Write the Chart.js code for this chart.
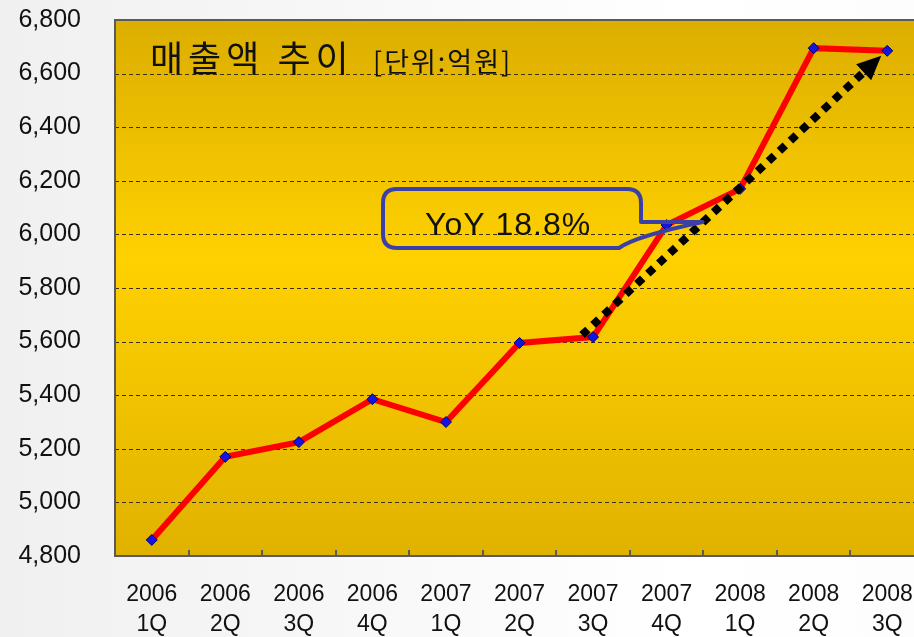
<!DOCTYPE html>
<html>
<head>
<meta charset="utf-8">
<script src="https://cdn.jsdelivr.net/npm/chart.js@4"></script>
<style>
  html, body { margin: 0; padding: 0; width: 914px; height: 637px; overflow: hidden; }
  body { background: linear-gradient(90deg, #f0f0f0 0%, #f8f8f8 40%, #ffffff 75%, #fdfdfd 100%); }
  #box { position: absolute; left: 0; top: 0; width: 924px; height: 637px; }
</style>
</head>
<body>
<div id="box"><canvas id="chart"></canvas></div>
<script>
// 매출액 추이 (quarterly sales, 억원)
const years = ['2006', '2006', '2006', '2006', '2007', '2007', '2007', '2007', '2008', '2008', '2008'];
const quarters = ['1Q', '2Q', '3Q', '4Q', '1Q', '2Q', '3Q', '4Q', '1Q', '2Q', '3Q'];
const sales = [4860, 5170, 5225, 5385, 5300, 5595, 5617, 6035, 6170, 6695, 6685];
const yTicks = [4800, 5000, 5200, 5400, 5600, 5800, 6000, 6200, 6400, 6600, 6800];
const titleMain = '매출액 추이';
const titleUnit = '[단위:억원]';
const calloutText = 'YoY 18.8%';
// arrow runs from 2007 3Q to 2008 3Q
const arrowFrom = 6, arrowTo = 10;

const labels = years.map((y, i) => [y, quarters[i]]);

const decor = {
  id: 'decor',
  beforeDatasetsDraw(chart) {
    const { ctx, chartArea: a } = chart;
    ctx.save();
    const g = ctx.createLinearGradient(0, a.top, 0, a.bottom);
    g.addColorStop(0, '#dcae00');
    g.addColorStop(0.45, '#ffd100');
    g.addColorStop(1, '#e0b200');
    ctx.fillStyle = g;
    ctx.fillRect(a.left, a.top, a.right - a.left, a.bottom - a.top);
    // grid lines on top of fill
    const y = chart.scales.y;
    ctx.strokeStyle = '#3d3010';
    ctx.lineWidth = 1;
    ctx.setLineDash([4, 3]);
    yTicks.slice(1, -1).forEach(v => {
      const py = Math.round(y.getPixelForValue(v)) + 0.5;
      ctx.beginPath(); ctx.moveTo(a.left, py); ctx.lineTo(a.right, py); ctx.stroke();
    });
    ctx.setLineDash([]);
    // frame
    ctx.strokeStyle = '#5a5a5a';
    ctx.lineWidth = 2;
    ctx.beginPath();
    ctx.moveTo(a.right, a.top); ctx.lineTo(a.left, a.top); ctx.lineTo(a.left, a.bottom); ctx.lineTo(a.right, a.bottom);
    ctx.stroke();
    // x tick marks (inside, at category boundaries)
    const x = chart.scales.x;
    const half = (x.getPixelForValue(1) - x.getPixelForValue(0)) / 2;
    for (let i = 0; i < labels.length; i++) {
      const px = Math.round(x.getPixelForValue(i) + half);
      ctx.beginPath(); ctx.moveTo(px, a.bottom); ctx.lineTo(px, a.bottom - 6); ctx.stroke();
    }
    // title
    ctx.fillStyle = '#111';
    ctx.textBaseline = 'alphabetic';
    ctx.font = '36px "Noto Sans CJK KR"';
    ctx.letterSpacing = '5px';
    ctx.fillText(titleMain, a.left + 35, 72);
    ctx.font = '27px "Noto Sans CJK KR"';
    ctx.letterSpacing = '2px';
    ctx.fillText(titleUnit, a.left + 258, 72);
    ctx.letterSpacing = '0px';
    ctx.restore();
  },
  afterDatasetsDraw(chart) {
    const { ctx } = chart;
    const x = chart.scales.x, y = chart.scales.y;
    ctx.save();
    // dotted arrow
    const x0 = x.getPixelForValue(arrowFrom) - 11, y0 = y.getPixelForValue(sales[arrowFrom]) - 2;
    const x1 = x.getPixelForValue(arrowTo) - 6, y1 = y.getPixelForValue(sales[arrowTo]) + 5;
    const ang = Math.atan2(y1 - y0, x1 - x0);
    const head = 24;
    const bx = x1 - head * Math.cos(ang), by = y1 - head * Math.sin(ang);
    ctx.strokeStyle = '#000';
    ctx.lineWidth = 8;
    ctx.setLineDash([8, 7]);
    ctx.beginPath(); ctx.moveTo(x0, y0); ctx.lineTo(bx, by); ctx.stroke();
    ctx.setLineDash([]);
    ctx.fillStyle = '#000';
    ctx.beginPath();
    ctx.moveTo(x1, y1);
    ctx.lineTo(bx + 11 * Math.sin(ang), by - 11 * Math.cos(ang));
    ctx.lineTo(bx - 11 * Math.sin(ang), by + 11 * Math.cos(ang));
    ctx.closePath(); ctx.fill();

    // callout bubble pointing at 2007 4Q
    const tipX = x.getPixelForValue(7) + 36, tipY = y.getPixelForValue(sales[7]) - 3;
    const L = 383, T = 189, R = 641, B = 248, r = 14;
    ctx.strokeStyle = '#3a40a6';
    ctx.lineWidth = 4;
    ctx.lineJoin = 'round';
    ctx.beginPath();
    ctx.moveTo(L + r, T);
    ctx.lineTo(R - r, T);
    ctx.quadraticCurveTo(R, T, R, T + r);
    ctx.lineTo(R, tipY);
    ctx.lineTo(tipX, tipY);
    ctx.quadraticCurveTo(R - 5, tipY + 14, R - 22, B);
    ctx.lineTo(L + r, B);
    ctx.quadraticCurveTo(L, B, L, B - r);
    ctx.lineTo(L, T + r);
    ctx.quadraticCurveTo(L, T, L + r, T);
    ctx.closePath();
    ctx.stroke();
    ctx.fillStyle = '#111';
    ctx.font = '32px Arial, "Liberation Sans", sans-serif';
    ctx.letterSpacing = '1px';
    ctx.textAlign = 'left';
    ctx.textBaseline = 'middle';
    ctx.fillText(calloutText, 425, 226);
    ctx.restore();
  }
};

new Chart(document.getElementById('chart'), {
  type: 'line',
  data: {
    labels: labels,
    datasets: [{
      data: sales,
      borderColor: '#ff0000',
      borderWidth: 6,
      tension: 0,
      pointStyle: 'rectRot',
      pointRadius: 5.5,
      pointBackgroundColor: '#1414e0',
      pointBorderColor: '#00006e',
      pointBorderWidth: 1,
      clip: false
    }]
  },
  options: {
    responsive: true,
    maintainAspectRatio: false,
    animation: false,
    layout: { autoPadding: false, padding: { top: 20, left: 0, right: 0, bottom: 0 } },
    plugins: { legend: { display: false }, tooltip: { enabled: false } },
    scales: {
      x: {
        offset: true,
        grid: { display: false, drawTicks: false },
        border: { display: false },
        ticks: {
          color: '#111',
          padding: 24,
          maxRotation: 0,
          autoSkip: false,
          font: { family: 'Arial, "Liberation Sans", sans-serif', size: 23, lineHeight: 1.3 }
        },
        afterFit(s) { s.height = 81; s.paddingLeft = 0; s.paddingRight = 0; }
      },
      y: {
        min: yTicks[0],
        max: yTicks[yTicks.length - 1],
        afterBuildTicks(s) { s.ticks = yTicks.map(v => ({ value: v })); },
        grid: { display: false, drawTicks: false },
        border: { display: false },
        ticks: {
          color: '#111',
          padding: 34,
          font: { family: 'Arial, "Liberation Sans", sans-serif', size: 25 },
          callback: v => v.toLocaleString('en-US')
        },
        afterFit(s) { s.width = 115; s.paddingTop = 0; s.paddingBottom = 0; }
      }
    }
  },
  plugins: [decor]
});
</script>
</body>
</html>
